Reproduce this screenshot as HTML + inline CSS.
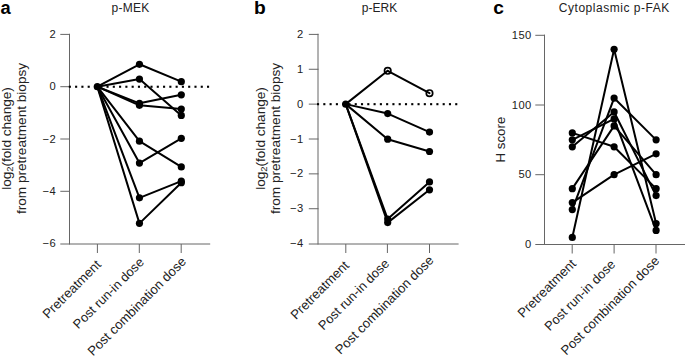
<!DOCTYPE html><html><head><meta charset="utf-8"><style>html,body{margin:0;padding:0;background:#fff;width:685px;height:356px;overflow:hidden}svg{display:block}text{font-family:"Liberation Sans", sans-serif}</style></head><body>
<svg width="685" height="356" viewBox="0 0 685 356">
<text x="0.5" y="13.9" font-size="18.3" font-weight="bold" fill="#000">a</text>
<text x="254.0" y="13.9" font-size="19.2" font-weight="bold" fill="#000">b</text>
<text x="493.2" y="13.9" font-size="19.2" font-weight="bold" fill="#000">c</text>
<text x="130.6" y="11.8" font-size="12" letter-spacing="0.3" text-anchor="middle" fill="#222">p-MEK</text>
<text x="379.5" y="11.8" font-size="12" text-anchor="middle" fill="#222">p-ERK</text>
<text x="614.3" y="11.8" font-size="12" letter-spacing="0.52" text-anchor="middle" fill="#222">Cytoplasmic p-FAK</text>
<g stroke="#666" stroke-width="1.0" fill="none">
<line x1="69.5" y1="33.8" x2="69.5" y2="244.5"/>
<line x1="60.3" y1="244.0" x2="210.2" y2="244.0"/>
<line x1="60.3" y1="34.40" x2="70.0" y2="34.40"/>
<line x1="60.3" y1="86.70" x2="70.0" y2="86.70"/>
<line x1="60.3" y1="139.00" x2="70.0" y2="139.00"/>
<line x1="60.3" y1="191.30" x2="70.0" y2="191.30"/>
<line x1="97.4" y1="244.0" x2="97.4" y2="253.0"/>
<line x1="139.3" y1="244.0" x2="139.3" y2="253.0"/>
<line x1="181.2" y1="244.0" x2="181.2" y2="253.0"/>
</g>
<text x="56.2" y="37.90" text-anchor="end" font-size="11.2" letter-spacing="0.45" fill="#222">2</text>
<text x="56.2" y="90.20" text-anchor="end" font-size="11.2" letter-spacing="0.45" fill="#222">0</text>
<text x="56.2" y="142.50" text-anchor="end" font-size="11.2" letter-spacing="0.45" fill="#222">−2</text>
<text x="56.2" y="194.80" text-anchor="end" font-size="11.2" letter-spacing="0.45" fill="#222">−4</text>
<text x="56.2" y="247.10" text-anchor="end" font-size="11.2" letter-spacing="0.45" fill="#222">−6</text>
<rect x="68.80" y="85.70" width="2.1" height="2.1" fill="#000"/>
<rect x="75.08" y="85.70" width="2.1" height="2.1" fill="#000"/>
<rect x="81.36" y="85.70" width="2.1" height="2.1" fill="#000"/>
<rect x="87.65" y="85.70" width="2.1" height="2.1" fill="#000"/>
<rect x="93.93" y="85.70" width="2.1" height="2.1" fill="#000"/>
<rect x="100.21" y="85.70" width="2.1" height="2.1" fill="#000"/>
<rect x="106.49" y="85.70" width="2.1" height="2.1" fill="#000"/>
<rect x="112.77" y="85.70" width="2.1" height="2.1" fill="#000"/>
<rect x="119.05" y="85.70" width="2.1" height="2.1" fill="#000"/>
<rect x="125.34" y="85.70" width="2.1" height="2.1" fill="#000"/>
<rect x="131.62" y="85.70" width="2.1" height="2.1" fill="#000"/>
<rect x="137.90" y="85.70" width="2.1" height="2.1" fill="#000"/>
<rect x="144.18" y="85.70" width="2.1" height="2.1" fill="#000"/>
<rect x="150.46" y="85.70" width="2.1" height="2.1" fill="#000"/>
<rect x="156.75" y="85.70" width="2.1" height="2.1" fill="#000"/>
<rect x="163.03" y="85.70" width="2.1" height="2.1" fill="#000"/>
<rect x="169.31" y="85.70" width="2.1" height="2.1" fill="#000"/>
<rect x="175.59" y="85.70" width="2.1" height="2.1" fill="#000"/>
<rect x="181.87" y="85.70" width="2.1" height="2.1" fill="#000"/>
<rect x="188.15" y="85.70" width="2.1" height="2.1" fill="#000"/>
<rect x="194.44" y="85.70" width="2.1" height="2.1" fill="#000"/>
<rect x="200.72" y="85.70" width="2.1" height="2.1" fill="#000"/>
<rect x="207.00" y="85.70" width="2.1" height="2.1" fill="#000"/>
<g stroke="#000" stroke-width="2.0" fill="none" stroke-linecap="round">
<line x1="97.3" y1="86.70" x2="139.45" y2="64.29"/>
<line x1="139.45" y1="64.29" x2="181.3" y2="81.70"/>
<line x1="97.3" y1="86.70" x2="139.45" y2="79.10"/>
<line x1="139.45" y1="79.10" x2="181.3" y2="115.41"/>
<line x1="97.3" y1="86.70" x2="139.45" y2="103.31"/>
<line x1="139.45" y1="103.31" x2="181.3" y2="94.80"/>
<line x1="97.3" y1="86.70" x2="139.45" y2="105.31"/>
<line x1="139.45" y1="105.31" x2="181.3" y2="109.01"/>
<line x1="97.3" y1="86.70" x2="139.45" y2="141.22"/>
<line x1="139.45" y1="141.22" x2="181.3" y2="166.93"/>
<line x1="97.3" y1="86.70" x2="139.45" y2="163.03"/>
<line x1="139.45" y1="163.03" x2="181.3" y2="138.32"/>
<line x1="97.3" y1="86.70" x2="139.45" y2="197.84"/>
<line x1="139.45" y1="197.84" x2="181.3" y2="181.14"/>
<line x1="97.3" y1="86.70" x2="139.45" y2="223.35"/>
<line x1="139.45" y1="223.35" x2="181.3" y2="182.74"/>
</g>
<circle cx="97.3" cy="86.70" r="3.6" fill="#000"/>
<circle cx="139.45" cy="64.29" r="3.6" fill="#000"/>
<circle cx="181.3" cy="81.70" r="3.6" fill="#000"/>
<circle cx="139.45" cy="79.10" r="3.6" fill="#000"/>
<circle cx="181.3" cy="115.41" r="3.6" fill="#000"/>
<circle cx="139.45" cy="103.31" r="3.6" fill="#000"/>
<circle cx="181.3" cy="94.80" r="3.6" fill="#000"/>
<circle cx="139.45" cy="105.31" r="3.6" fill="#000"/>
<circle cx="181.3" cy="109.01" r="3.6" fill="#000"/>
<circle cx="139.45" cy="141.22" r="3.6" fill="#000"/>
<circle cx="181.3" cy="166.93" r="3.6" fill="#000"/>
<circle cx="139.45" cy="163.03" r="3.6" fill="#000"/>
<circle cx="181.3" cy="138.32" r="3.6" fill="#000"/>
<circle cx="139.45" cy="197.84" r="3.6" fill="#000"/>
<circle cx="181.3" cy="181.14" r="3.6" fill="#000"/>
<circle cx="139.45" cy="223.35" r="3.6" fill="#000"/>
<circle cx="181.3" cy="182.74" r="3.6" fill="#000"/>
<g stroke="#666" stroke-width="1.0" fill="none">
<line x1="318.0" y1="33.8" x2="318.0" y2="244.5"/>
<line x1="308.8" y1="244.0" x2="458.6" y2="244.0"/>
<line x1="308.8" y1="34.40" x2="318.5" y2="34.40"/>
<line x1="308.8" y1="69.27" x2="318.5" y2="69.27"/>
<line x1="308.8" y1="104.13" x2="318.5" y2="104.13"/>
<line x1="308.8" y1="139.00" x2="318.5" y2="139.00"/>
<line x1="308.8" y1="173.87" x2="318.5" y2="173.87"/>
<line x1="308.8" y1="208.73" x2="318.5" y2="208.73"/>
<line x1="345.8" y1="244.0" x2="345.8" y2="253.0"/>
<line x1="387.4" y1="244.0" x2="387.4" y2="253.0"/>
<line x1="429.5" y1="244.0" x2="429.5" y2="253.0"/>
</g>
<text x="303.6" y="37.90" text-anchor="end" font-size="11.2" letter-spacing="0.45" fill="#222">2</text>
<text x="303.6" y="72.77" text-anchor="end" font-size="11.2" letter-spacing="0.45" fill="#222">1</text>
<text x="303.6" y="107.63" text-anchor="end" font-size="11.2" letter-spacing="0.45" fill="#222">0</text>
<text x="303.6" y="142.50" text-anchor="end" font-size="11.2" letter-spacing="0.45" fill="#222">−1</text>
<text x="303.6" y="177.37" text-anchor="end" font-size="11.2" letter-spacing="0.45" fill="#222">−2</text>
<text x="303.6" y="212.23" text-anchor="end" font-size="11.2" letter-spacing="0.45" fill="#222">−3</text>
<text x="303.6" y="247.10" text-anchor="end" font-size="11.2" letter-spacing="0.45" fill="#222">−4</text>
<rect x="317.00" y="103.13" width="2.1" height="2.1" fill="#000"/>
<rect x="323.28" y="103.13" width="2.1" height="2.1" fill="#000"/>
<rect x="329.56" y="103.13" width="2.1" height="2.1" fill="#000"/>
<rect x="335.85" y="103.13" width="2.1" height="2.1" fill="#000"/>
<rect x="342.13" y="103.13" width="2.1" height="2.1" fill="#000"/>
<rect x="348.41" y="103.13" width="2.1" height="2.1" fill="#000"/>
<rect x="354.69" y="103.13" width="2.1" height="2.1" fill="#000"/>
<rect x="360.97" y="103.13" width="2.1" height="2.1" fill="#000"/>
<rect x="367.25" y="103.13" width="2.1" height="2.1" fill="#000"/>
<rect x="373.54" y="103.13" width="2.1" height="2.1" fill="#000"/>
<rect x="379.82" y="103.13" width="2.1" height="2.1" fill="#000"/>
<rect x="386.10" y="103.13" width="2.1" height="2.1" fill="#000"/>
<rect x="392.38" y="103.13" width="2.1" height="2.1" fill="#000"/>
<rect x="398.66" y="103.13" width="2.1" height="2.1" fill="#000"/>
<rect x="404.95" y="103.13" width="2.1" height="2.1" fill="#000"/>
<rect x="411.23" y="103.13" width="2.1" height="2.1" fill="#000"/>
<rect x="417.51" y="103.13" width="2.1" height="2.1" fill="#000"/>
<rect x="423.79" y="103.13" width="2.1" height="2.1" fill="#000"/>
<rect x="430.07" y="103.13" width="2.1" height="2.1" fill="#000"/>
<rect x="436.35" y="103.13" width="2.1" height="2.1" fill="#000"/>
<rect x="442.64" y="103.13" width="2.1" height="2.1" fill="#000"/>
<rect x="448.92" y="103.13" width="2.1" height="2.1" fill="#000"/>
<rect x="455.20" y="103.13" width="2.1" height="2.1" fill="#000"/>
<circle cx="387.7" cy="70.78" r="3.2" fill="#fff" stroke="#000" stroke-width="1.7"/>
<circle cx="429.5" cy="93.18" r="3.2" fill="#fff" stroke="#000" stroke-width="1.7"/>
<g stroke="#000" stroke-width="2.0" fill="none" stroke-linecap="round">
<line x1="345.7" y1="104.13" x2="387.7" y2="70.78"/>
<line x1="387.7" y1="70.78" x2="429.5" y2="93.18"/>
<line x1="345.7" y1="104.13" x2="387.7" y2="113.59"/>
<line x1="387.7" y1="113.59" x2="429.5" y2="132.09"/>
<line x1="345.7" y1="104.13" x2="387.7" y2="139.19"/>
<line x1="387.7" y1="139.19" x2="429.5" y2="151.49"/>
<line x1="345.7" y1="104.13" x2="387.7" y2="219.01"/>
<line x1="387.7" y1="219.01" x2="429.5" y2="181.90"/>
<line x1="345.7" y1="104.13" x2="387.7" y2="222.61"/>
<line x1="387.7" y1="222.61" x2="429.5" y2="189.80"/>
</g>
<circle cx="345.7" cy="104.13" r="3.6" fill="#000"/>
<circle cx="387.7" cy="113.59" r="3.6" fill="#000"/>
<circle cx="429.5" cy="132.09" r="3.6" fill="#000"/>
<circle cx="387.7" cy="139.19" r="3.6" fill="#000"/>
<circle cx="429.5" cy="151.49" r="3.6" fill="#000"/>
<circle cx="387.7" cy="219.01" r="3.6" fill="#000"/>
<circle cx="429.5" cy="181.90" r="3.6" fill="#000"/>
<circle cx="387.7" cy="222.61" r="3.6" fill="#000"/>
<circle cx="429.5" cy="189.80" r="3.6" fill="#000"/>
<g stroke="#666" stroke-width="1.0" fill="none">
<line x1="544.5" y1="34.699999999999996" x2="544.5" y2="245.0"/>
<line x1="535.3" y1="244.5" x2="685.5" y2="244.5"/>
<line x1="535.3" y1="35.30" x2="545.0" y2="35.30"/>
<line x1="535.3" y1="105.00" x2="545.0" y2="105.00"/>
<line x1="535.3" y1="174.70" x2="545.0" y2="174.70"/>
<line x1="572.2" y1="244.5" x2="572.2" y2="253.5"/>
<line x1="614.1" y1="244.5" x2="614.1" y2="253.5"/>
<line x1="656.0" y1="244.5" x2="656.0" y2="253.5"/>
</g>
<text x="531.8" y="38.80" text-anchor="end" font-size="11.2" letter-spacing="0.45" fill="#222">150</text>
<text x="531.8" y="108.50" text-anchor="end" font-size="11.2" letter-spacing="0.45" fill="#222">100</text>
<text x="531.8" y="178.20" text-anchor="end" font-size="11.2" letter-spacing="0.45" fill="#222">50</text>
<text x="531.8" y="247.90" text-anchor="end" font-size="11.2" letter-spacing="0.45" fill="#222">0</text>
<g stroke="#000" stroke-width="2.0" fill="none" stroke-linecap="round">
<line x1="572.3" y1="132.88" x2="614.1" y2="146.82"/>
<line x1="614.1" y1="146.82" x2="656.1" y2="188.64"/>
<line x1="572.3" y1="139.85" x2="614.1" y2="118.94"/>
<line x1="614.1" y1="118.94" x2="656.1" y2="230.46"/>
<line x1="572.3" y1="146.82" x2="614.1" y2="111.97"/>
<line x1="614.1" y1="111.97" x2="656.1" y2="195.61"/>
<line x1="572.3" y1="188.64" x2="614.1" y2="125.91"/>
<line x1="614.1" y1="125.91" x2="656.1" y2="174.70"/>
<line x1="572.3" y1="202.58" x2="614.1" y2="174.70"/>
<line x1="614.1" y1="174.70" x2="656.1" y2="153.79"/>
<line x1="572.3" y1="209.55" x2="614.1" y2="98.03"/>
<line x1="614.1" y1="98.03" x2="656.1" y2="139.85"/>
<line x1="572.3" y1="237.43" x2="614.1" y2="49.24"/>
<line x1="614.1" y1="49.24" x2="656.1" y2="223.49"/>
</g>
<circle cx="572.3" cy="132.88" r="3.6" fill="#000"/>
<circle cx="614.1" cy="146.82" r="3.6" fill="#000"/>
<circle cx="656.1" cy="188.64" r="3.6" fill="#000"/>
<circle cx="572.3" cy="139.85" r="3.6" fill="#000"/>
<circle cx="614.1" cy="118.94" r="3.6" fill="#000"/>
<circle cx="656.1" cy="230.46" r="3.6" fill="#000"/>
<circle cx="572.3" cy="146.82" r="3.6" fill="#000"/>
<circle cx="614.1" cy="111.97" r="3.6" fill="#000"/>
<circle cx="656.1" cy="195.61" r="3.6" fill="#000"/>
<circle cx="572.3" cy="188.64" r="3.6" fill="#000"/>
<circle cx="614.1" cy="125.91" r="3.6" fill="#000"/>
<circle cx="656.1" cy="174.70" r="3.6" fill="#000"/>
<circle cx="572.3" cy="202.58" r="3.6" fill="#000"/>
<circle cx="614.1" cy="174.70" r="3.6" fill="#000"/>
<circle cx="656.1" cy="153.79" r="3.6" fill="#000"/>
<circle cx="572.3" cy="209.55" r="3.6" fill="#000"/>
<circle cx="614.1" cy="98.03" r="3.6" fill="#000"/>
<circle cx="656.1" cy="139.85" r="3.6" fill="#000"/>
<circle cx="572.3" cy="237.43" r="3.6" fill="#000"/>
<circle cx="614.1" cy="49.24" r="3.6" fill="#000"/>
<circle cx="656.1" cy="223.49" r="3.6" fill="#000"/>
<g transform="translate(0,138.5) rotate(-90)">
<text x="0" y="10.5" text-anchor="middle" font-size="13.6" fill="#222">log<tspan font-size="9.4" dy="2.6">2</tspan><tspan dy="-2.6">(fold change)</tspan></text>
<text x="0" y="26.0" text-anchor="middle" font-size="13.6" fill="#222">from pretreatment biopsy</text>
</g>
<g transform="translate(0,138.5) rotate(-90)">
</g>
<g transform="translate(254.2,0)">
<g transform="translate(0,138.5) rotate(-90)">
<text x="0" y="10.5" text-anchor="middle" font-size="13.6" fill="#222">log<tspan font-size="9.4" dy="2.6">2</tspan><tspan dy="-2.6">(fold change)</tspan></text>
<text x="0" y="26.0" text-anchor="middle" font-size="13.6" fill="#222">from pretreatment biopsy</text>
</g>
</g>
<g transform="translate(505.1,139.6) rotate(-90)"><text x="0" y="0" text-anchor="middle" font-size="13.3" fill="#222">H score</text></g>
<text transform="translate(101.80,265.4) rotate(-45)" text-anchor="end" font-size="13.2" fill="#222">Pretreatment</text>
<text transform="translate(144.75,263.0) rotate(-45)" text-anchor="end" font-size="12.9" fill="#222">Post run-in dose</text>
<text transform="translate(187.00,262.4) rotate(-45)" text-anchor="end" font-size="13.15" fill="#222">Post combination dose</text>
<text transform="translate(349.80,266.3) rotate(-45)" text-anchor="end" font-size="13.2" fill="#222">Pretreatment</text>
<text transform="translate(390.00,264.4) rotate(-45)" text-anchor="end" font-size="12.9" fill="#222">Post run-in dose</text>
<text transform="translate(434.50,261.1) rotate(-45)" text-anchor="end" font-size="13.15" fill="#222">Post combination dose</text>
<text transform="translate(576.80,264.6) rotate(-45)" text-anchor="end" font-size="13.2" fill="#222">Pretreatment</text>
<text transform="translate(616.20,265.2) rotate(-45)" text-anchor="end" font-size="12.9" fill="#222">Post run-in dose</text>
<text transform="translate(660.20,261.7) rotate(-45)" text-anchor="end" font-size="13.15" fill="#222">Post combination dose</text>
</svg></body></html>
